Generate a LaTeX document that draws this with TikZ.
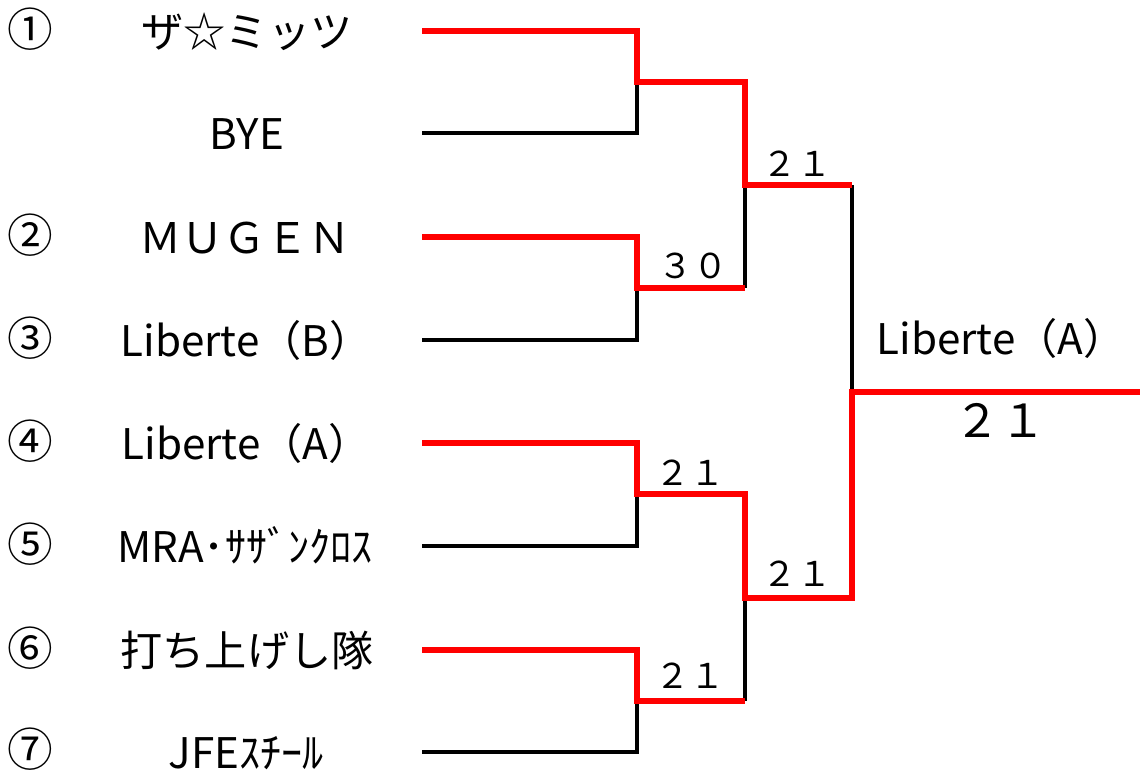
\documentclass[tikz,border=0pt]{standalone}
\usepackage{fontspec}
\setmainfont{Noto Sans CJK JP}
\usetikzlibrary{positioning,calc}
\definecolor{winred}{HTML}{FF0000}
\definecolor{ink}{HTML}{000000}

\begin{document}
\begin{tikzpicture}[x=0.02cm,y=-0.02cm,
  team/.style={font=\fontsize{24}{28}\selectfont,inner sep=0pt,anchor=base},
  seed/.style={font=\fontsize{26}{30}\selectfont,inner sep=0pt,anchor=base},
  score/.style={font=\fontsize{19.5}{22}\selectfont,inner sep=0pt,anchor=base},
  bigscore/.style={font=\fontsize{26}{30}\selectfont,inner sep=0pt,anchor=base},
  lose/.style={draw=ink,line width=2.2pt},
  win/.style={draw=winred,line width=3.4pt},
]
\useasboundingbox (0,0) rectangle (1140,771);

% ---- seeds and teams
\node[seed] (s1) at (30,46) {①};
\node[seed] (s2) at (30,252) {②};
\node[seed] (s3) at (30,355) {③};
\node[seed] (s4) at (30,458) {④};
\node[seed] (s5) at (30,561) {⑤};
\node[seed] (s6) at (30,665) {⑥};
\node[seed] (s7) at (30,766) {⑦};

\node[team] (t1) at (247,47) {ザ☆ミッツ};
\node[team] (t2) at (247,149) {BYE};
\node[team] (t3) at (245,253) {ＭＵＧＥＮ};
\node[team] (t4) at (246,356) {Liberte（B）};
\node[team] (t5) at (246,459) {Liberte（A）};
\node[team] (t6) at (245,562) {MRA･ｻｻﾞﾝｸﾛｽ};
\node[team] (t7) at (247,666) {打ち上げし隊};
\node[team] (t8) at (246,768) {JFEｽﾁｰﾙ};

% ---- bracket points
\foreach \i/\y in {1/31,2/133,3/237,4/340,5/443,6/546,7/650,8/752}
  \coordinate (e\i) at (422,\y);
\foreach \i/\y in {1/82,2/288,3/494,4/701} {
  \coordinate (j\i) at (637,\y);
  \coordinate (w\i) at (745,\y);
}
\coordinate (k1) at (745,185); \coordinate (v1) at (852,185);
\coordinate (k2) at (745,598); \coordinate (v2) at (852,598);
\coordinate (f) at (852,392);
\coordinate (c) at (1140,392);

% ---- losers
\draw[lose] (e2) -| (j1);
\draw[lose] (e4) -| (j2);
\draw[lose] (w2) -- (k1);
\draw[lose] (e6) -| (j3);
\draw[lose] (e8) -| (j4);
\draw[lose] (w4) -- (k2);
\draw[lose] (v1) -- (f);

% ---- winners
\draw[win] (e1) -| (j1) -- (w1) -- (k1) -- (v1);
\draw[win] (e3) -| (j2) -- (w2);
\draw[win] (e5) -| (j3) -- (w3) -- (k2) -- (v2) -- (f) -- (c);
\draw[win] (e7) -| (j4) -- (w4);

% ---- scores
\node[score] (sc1) at (797,176) {２１};
\node[score] (sc2) at (693,278) {３０};
\node[score] (sc3) at (690,485) {２１};
\node[score] (sc4) at (797,586) {２１};
\node[score] (sc5) at (690,688) {２１};

% ---- champion
\node[team] (champ) at (1001,354) {Liberte（A）};
\node[bigscore] (final) at (1000,437) {２１};

\end{tikzpicture}
\end{document}
